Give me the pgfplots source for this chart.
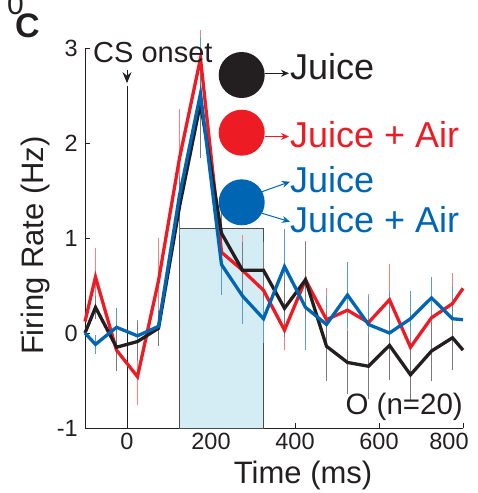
\documentclass[border=0pt]{standalone}
\usepackage{fontspec}
\setmainfont{Liberation Sans}
\usepackage{pgfplots}
\pgfplotsset{compat=1.18}
\usepackage{pgfplotstable}
\usetikzlibrary{arrows.meta}

\definecolor{cred}{RGB}{237,28,36}
\definecolor{cblue}{RGB}{0,102,179}
\definecolor{cblack}{RGB}{35,31,32}
\definecolor{shade}{RGB}{212,237,244}

% time (ms), mean and s.e.m. for juice (k), juice+air (r), blue group (b)
\pgfplotstableread{
x    r     re    k     ke    b     be
-100 0.12  0     0.00  0     0.00  0
-75  0.59  0.31  0.27  0.12 -0.12  0.10
-25 -0.18  0.22 -0.15  0.25  0.06  0.20
25  -0.46  0.30 -0.09  0.20 -0.03  0.17
75   0.55  0.45  0.05  0.19  0.07  0.15
125  1.84  0.52  1.33  0.30  1.45  0.20
175  2.89  0.30  2.42  0.58  2.52  0.60
225  0.85  0.30  1.05  0.30  0.72  0.32
275  0.66  0.37  0.66  0.30  0.39  0.30
325  0.45  0.34  0.66  0.30  0.15  0.25
375  0.03  0.21  0.26  0.30  0.70  0.40
425  0.56  0.41  0.56  0.40  0.27  0.45
475  0.14  0.33 -0.14  0.37  0.09  0.30
525  0.24  0.30 -0.31  0.33  0.40  0.35
575  0.11  0.30 -0.35  0.34  0.09  0.30
625  0.35  0.38 -0.13  0.36  0.00  0.44
675 -0.15  0.24 -0.44  0.26  0.15  0.29
725  0.16  0.30 -0.19  0.31  0.37  0.22
775  0.31  0.32 -0.05  0.34  0.15  0.35
800  0.47  0     -0.18  0     0.14  0
}\rates

\begin{document}
\begin{tikzpicture}[x=1pt,y=1pt]
\useasboundingbox (-85,-65) rectangle (392,428);
\begin{axis}[
    at={(0,0)}, anchor=south west,
    scale only axis, width=378pt, height=380pt,
    xmin=-100, xmax=800, ymin=-1, ymax=3,
    axis lines*=left,
    axis line style={cblack, line width=0.9pt},
    xtick={0,200,400,600,800}, ytick={-1,0,1,2,3},
    xticklabels={0,200,400,600,\makebox[0pt]{\hspace*{-28pt}800}},
    tick align=inside, major tick length=5pt,
    tick style={cblack, line width=0.9pt},
    /pgf/number format/assume math mode=true,
    ticklabel style={font=\fontsize{23.5}{23.5}\selectfont, text=cblack},
    xticklabel style={inner sep=0pt, yshift=-5pt},
    yticklabel style={inner sep=0pt, xshift=-7pt},
    xlabel={Time (ms)},
    ylabel={Firing Rate (Hz)},
    label style={font=\fontsize{31}{31}\selectfont, text=cblack},
    xlabel style={at={(axis description cs:0.577,0)}, anchor=base, yshift=-55pt},
    ylabel style={at={(axis description cs:-0.111,0.48)}, anchor=base},
    clip=false,
]
\addplot[fill=shade, draw=cblack!80, line width=0.9pt] coordinates {(125,-1) (125,1.1) (325,1.1) (325,-1)} -- cycle;

\draw[cblack, line width=0.8pt] (axis cs:0,-1) -- (axis cs:0,2.6);
\draw[cblack, line width=0.8pt, -{Stealth[length=11pt, width=9pt]}] (axis cs:0,2.77) -- (axis cs:0,2.63);

\addplot[draw=none, no markers, forget plot, error bars/.cd, y dir=both, y explicit,
    error mark=none, error bar style={draw=cred!55, line width=1.3pt}]
    table[x=x, y=r, y error=re] {\rates};
\addplot[draw=none, no markers, forget plot, error bars/.cd, y dir=both, y explicit,
    error mark=none, error bar style={draw=cblue!65, line width=1.3pt}]
    table[x=x, y=b, y error=be] {\rates};
\addplot[draw=none, no markers, forget plot, error bars/.cd, y dir=both, y explicit,
    error mark=none, error bar style={draw=cblack!60, line width=1.3pt}]
    table[x=x, y=k, y error=ke] {\rates};

\addplot[cred, no markers, line width=3.3pt, line join=miter] table[x=x, y=r] {\rates};
\addplot[cblack, no markers, line width=3.3pt, line join=miter] table[x=x, y=k] {\rates};
\addplot[cblue, no markers, line width=3.3pt, line join=miter] table[x=x, y=b] {\rates};
\end{axis}

% annotations in picture coordinates (axis origin at 0,0)
\node[anchor=base west, inner sep=0pt, text=cblack, font=\fontsize{29}{29}\selectfont] at (8,365) {CS onset};
\node[anchor=base east, inner sep=0pt, text=cblack, font=\fontsize{29.5}{29.5}\selectfont] at (378,13) {O (n=20)};
\node[anchor=base west, inner sep=0pt, text=cblack, font=\fontsize{34}{34}\selectfont\bfseries] at (-70,390) {C};
\node[anchor=base west, inner sep=0pt, text=cblack, font=\fontsize{30}{30}\selectfont] at (-78,413) {0};

\fill[cblack] (156.7,353) circle (23);
\draw[cblack, line width=1pt, -{Stealth[length=8pt, width=7pt]}] (180,354.7) -- (204,354.7);
\node[anchor=base west, inner sep=0pt, text=cblack, font=\fontsize{36}{36}\selectfont] at (205,348) {Juice};

\fill[cred] (156.7,295.3) circle (23);
\draw[cred, line width=1pt, -{Stealth[length=8pt, width=7pt]}] (180,291.5) -- (204,291.5);
\node[anchor=base west, inner sep=0pt, text=cred, font=\fontsize{36}{36}\selectfont] at (205,280) {Juice + Air};

\fill[cblue] (156.7,225.7) circle (23);
\draw[cblue, line width=1pt, -{Stealth[length=8pt, width=7pt]}] (177,236.3) -- (205,246.3);
\draw[cblue, line width=1pt, -{Stealth[length=8pt, width=7pt]}] (177,214.7) -- (205,206.3);
\node[anchor=base west, inner sep=0pt, text=cblue, font=\fontsize{36}{36}\selectfont] at (205,235) {Juice};
\node[anchor=base west, inner sep=0pt, text=cblue, font=\fontsize{36}{36}\selectfont] at (205,195) {Juice + Air};
\end{tikzpicture}
\end{document}
